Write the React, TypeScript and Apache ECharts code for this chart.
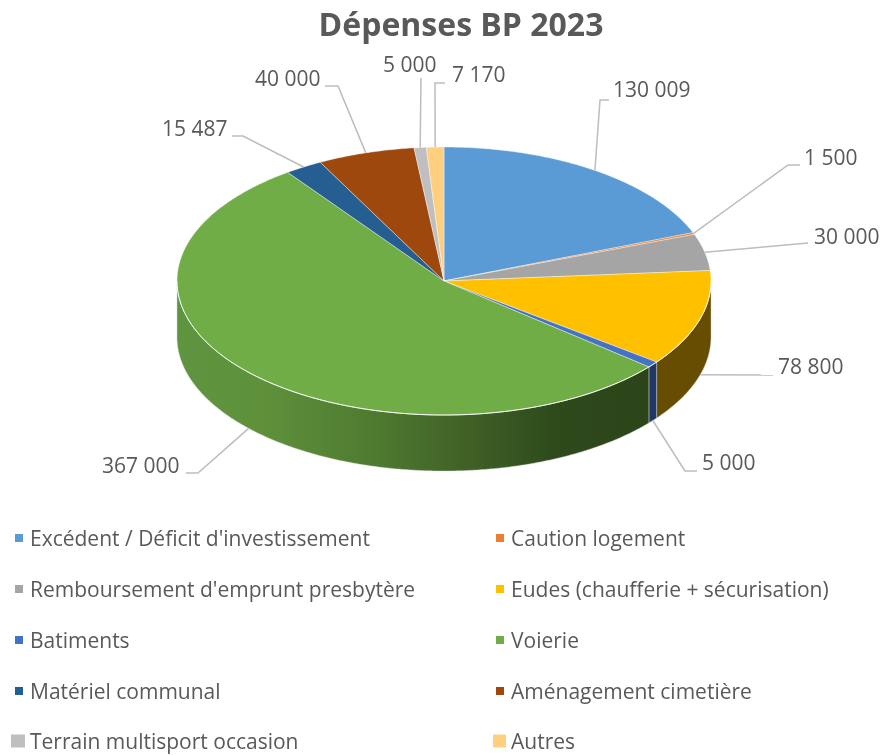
import React, { useEffect, useRef } from "react";
import * as echarts from "echarts";

const chartTitle = "Dépenses BP 2023";
const categories = [
  "Excédent / Déficit d'investissement",
  "Caution logement",
  "Remboursement d'emprunt presbytère",
  "Eudes (chaufferie + sécurisation)",
  "Batiments",
  "Voierie",
  "Matériel communal",
  "Aménagement cimetière",
  "Terrain multisport occasion",
  "Autres",
];
const values = [130009, 1500, 30000, 78800, 5000, 367000, 15487, 40000, 5000, 7170];
const colors = ["#5B9BD5", "#ED7D31", "#A5A5A5", "#FFC000", "#4472C4", "#70AD47", "#255E91", "#9E480E", "#BFBFBF", "#FFCF80"];
const wallColors: (string | [number, string][])[] = [
  "#2F5F8A", "#8A4A1C", "#636363", "#664D00", "#1F3864",
  [[0, "#5F9440"], [0.18, "#5F913B"], [0.42, "#4E7A30"], [0.62, "#3F6026"], [0.8, "#2E4A1B"], [1, "#2C4419"]],
  "#143655", "#5F2B08", "#737373", "#997C4D",
];
// label callouts: text anchor (left x, middle y), then elbow and end of the leader line
const callouts = [
  { x: 613, y: 89, line: [[600, 100], [609, 100]] },
  { x: 804, y: 157, line: [[788, 165], [800, 165]] },
  { x: 814, y: 236, line: [[808, 243]] },
  { x: 778, y: 366, line: [[773, 375]] },
  { x: 702, y: 462, line: [[685, 471], [697, 471]] },
  { x: 102, y: 465, line: [[198, 473], [186, 473]] },
  { x: 162, y: 128, line: [[243, 136], [232, 136]] },
  { x: 255, y: 78, line: [[338, 86], [325, 86]] },
  { x: 383, y: 64, line: [[421, 78]] },
  { x: 452, y: 74, line: [[435, 83], [445, 83]] },
];

const CX = 444, CY = 281, RX = 267, RY = 134, DEPTH = 56;
const FONT = '"Open Sans", sans-serif';
const total = values.reduce((a, b) => a + b, 0);
const pt = (deg: number, dy = 0): [number, number] => {
  const r = (deg * Math.PI) / 180;
  return [CX + RX * Math.sin(r), CY - RY * Math.cos(r) + dy];
};
const arc = (a: number, b: number, dy = 0) => {
  const n = Math.max(2, Math.ceil(Math.abs(b - a) * 2));
  const out: [number, number][] = [];
  for (let i = 0; i <= n; i++) out.push(pt(a + ((b - a) * i) / n, dy));
  return out;
};
const fmt = (v: number) => String(v).replace(/\B(?=(\d{3})+$)/g, " ");

function makeRender(i: number) {
  return (_p: any, api: any) => {
    const v = api.value(0);
    const before = values.slice(0, i).reduce((a, b) => a + b, 0);
    const a = (before / total) * 360;
    const b = a + (v / total) * 360;
    const children: any[] = [];
    // outer wall (front half only)
    const wa = Math.max(a, 90), wb = Math.min(b, 270);
    if (wb > wa) {
      const top = arc(wa, wb);
      const bot = arc(wa, wb, DEPTH).reverse();
      const wc = wallColors[i];
      const fill = typeof wc === "string"
        ? wc
        : new echarts.graphic.LinearGradient(0, 0, 1, 0, wc.map(([offset, color]) => ({ offset, color })));
      children.push({
        type: "polygon",
        shape: { points: [...top, ...bot] },
        style: { fill, stroke: "rgba(215,215,215,0.75)", lineWidth: 0.6 },
        z2: 1,
      });
      children.push({
        type: "polyline",
        shape: { points: top },
        style: { fill: null, stroke: "rgba(255,255,255,0.85)", lineWidth: 1 },
        z2: 3,
      });
    }
    // top face
    children.push({
      type: "polygon",
      shape: { points: [[CX, CY], ...arc(a, b)] },
      style: { fill: colors[i], stroke: "rgba(255,255,255,0.65)", lineWidth: 0.6 },
      z2: 2,
    });
    // leader + value label
    const mid = (a + b) / 2;
    const front = mid > 90 && mid < 270;
    const start = pt(mid, front ? DEPTH : 0);
    const c = callouts[i];
    children.push({
      type: "polyline",
      shape: { points: [start, ...c.line] },
      style: { fill: null, stroke: "#BDBDBD", lineWidth: 1.5 },
      z2: 4,
    });
    children.push({
      type: "text",
      x: c.x,
      y: c.y,
      style: { text: fmt(v), font: `21px ${FONT}`, fill: "#595959", align: "left", verticalAlign: "middle" },
      z2: 5,
    });
    return { type: "group", children };
  };
}

const legendBase = {
  orient: "vertical" as const,
  icon: "rect",
  itemWidth: 8,
  itemHeight: 8,
  itemGap: 25,
  padding: 0,
  selectedMode: false,
  textStyle: { fontFamily: FONT, fontSize: 21, color: "#595959", lineHeight: 26, padding: [0, 0, 0, 2] },
};

export default function App() {
  const ref = useRef<HTMLDivElement>(null);
  useEffect(() => {
    const chart = echarts.init(ref.current!, undefined, { renderer: "svg" });
    chart.setOption({
      animation: false,
      backgroundColor: "#fff",
      color: colors,
      title: {
        text: chartTitle,
        left: 456,
        top: 2,
        textAlign: "center",
        textStyle: { fontFamily: FONT, fontSize: 32, fontWeight: "bold", color: "#595959" },
      },
      legend: [
        { ...legendBase, left: 15, top: 525, data: categories.filter((_, k) => k % 2 === 0 && k < 8) },
        { ...legendBase, left: 496, top: 525, data: categories.filter((_, k) => k % 2 === 1 && k < 8) },
        { ...legendBase, itemWidth: 14, itemHeight: 13, left: 11, top: 728, data: [categories[8]], textStyle: { ...legendBase.textStyle, padding: 0 } },
        { ...legendBase, itemWidth: 13, itemHeight: 13, left: 493, top: 728, data: [categories[9]], textStyle: { ...legendBase.textStyle, padding: 0 } },
      ],
      series: categories.map((name, i) => ({
        type: "custom",
        name,
        coordinateSystem: "none",
        silent: true,
        itemStyle: { color: colors[i] },
        data: [values[i]],
        renderItem: makeRender(i),
      })),
    });
    return () => chart.dispose();
  }, []);
  return <div ref={ref} style={{ position: "fixed", left: 0, top: 0, width: 883, height: 755, filter: "blur(0.4px)" }} />;
}
